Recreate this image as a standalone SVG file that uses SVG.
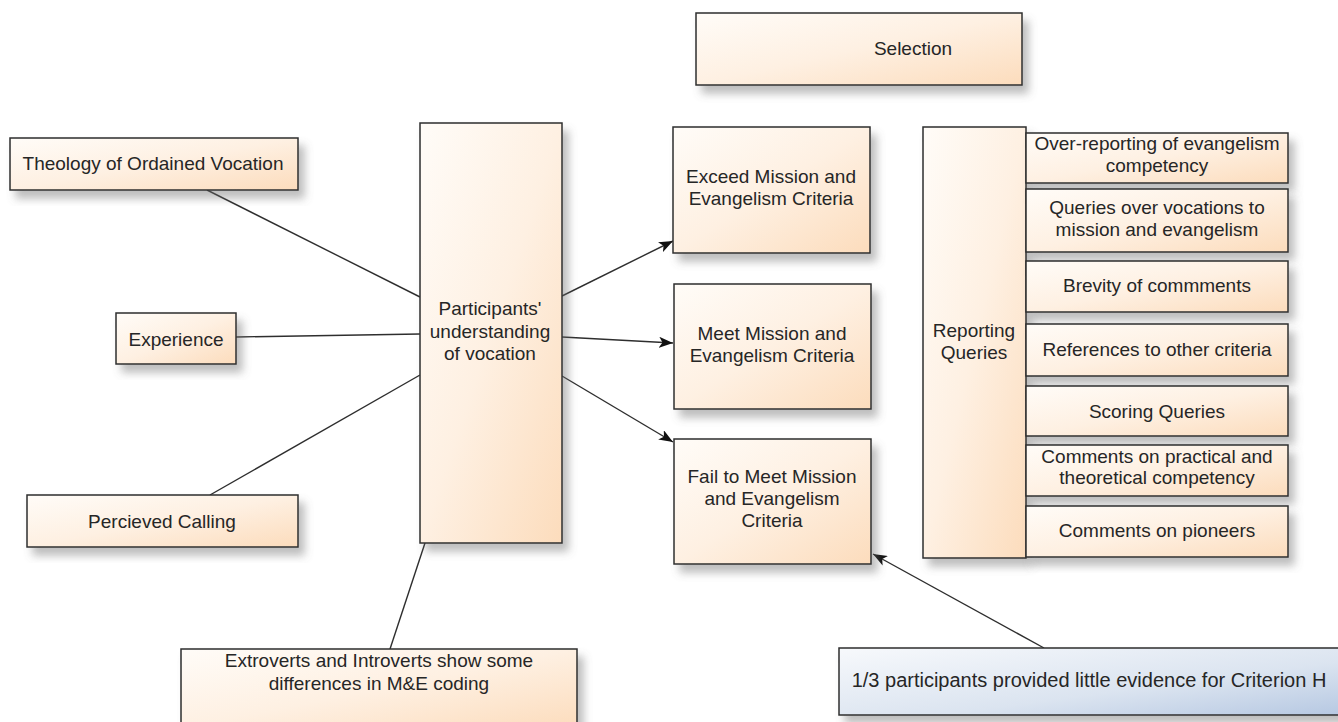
<svg xmlns="http://www.w3.org/2000/svg" width="1338" height="722" viewBox="0 0 1338 722">
<defs>
<linearGradient id="peach" x1="0" y1="0" x2="1" y2="1">
<stop offset="0" stop-color="#fffcf8"/>
<stop offset="0.5" stop-color="#fef0e2"/>
<stop offset="1" stop-color="#fcdcbc"/>
</linearGradient>
<linearGradient id="blue" x1="0" y1="0" x2="1" y2="1">
<stop offset="0" stop-color="#f7f9fc"/>
<stop offset="0.6" stop-color="#dbe4f0"/>
<stop offset="1" stop-color="#b6c8e2"/>
</linearGradient>
<filter id="sh" x="-10%" y="-10%" width="130%" height="140%">
<feDropShadow dx="6" dy="8" stdDeviation="4" flood-color="#707070" flood-opacity="0.45"/>
</filter>
<marker id="arr" viewBox="0 0 14 11" refX="14" refY="5.5" markerWidth="14" markerHeight="11" markerUnits="userSpaceOnUse" orient="auto">
<path d="M0,0 L14,5.5 L0,11 L3.5,5.5 z" fill="#111"/>
</marker>
</defs>
<style>
.n rect{fill:url(#peach);stroke:#2e2e2e;stroke-width:1.5;filter:url(#sh)}
.b rect{fill:url(#blue);stroke:#2e2e2e;stroke-width:1.5;filter:url(#sh)}
text{font-family:"Liberation Sans",Arial,sans-serif;font-size:19px;fill:#262626;text-anchor:middle}
.c line{stroke:#2e2e2e;stroke-width:1.4}
</style>
<rect width="1338" height="722" fill="#ffffff"/>

<g class="c" id="connectors">
<line x1="207" y1="190" x2="420" y2="297"/>
<line x1="236" y1="337" x2="420" y2="334"/>
<line x1="210" y1="495" x2="420" y2="375"/>
<line x1="390" y1="649" x2="425" y2="543"/>
<line x1="562" y1="296" x2="673" y2="241" marker-end="url(#arr)"/>
<line x1="562" y1="337" x2="673" y2="343" marker-end="url(#arr)"/>
<line x1="562" y1="376" x2="673" y2="442" marker-end="url(#arr)"/>
<line x1="1044" y1="648" x2="873" y2="554" marker-end="url(#arr)"/>
</g>

<g class="n" id="selection"><rect x="696" y="13" width="326" height="72"/><text x="913" y="55">Selection</text></g>
<g class="n" id="theology"><rect x="10" y="138" width="288" height="52"/><text x="153" y="170">Theology of Ordained Vocation</text></g>
<g class="n" id="experience"><rect x="116" y="313" width="120" height="51"/><text x="176" y="346">Experience</text></g>
<g class="n" id="calling"><rect x="27" y="495" width="271" height="52"/><text x="162" y="528">Percieved Calling</text></g>
<g class="n" id="participants"><rect x="420" y="123" width="142" height="420"/><text x="490" y="315">Participants'</text><text x="490" y="338">understanding</text><text x="490" y="360">of vocation</text></g>
<g class="n" id="exceed"><rect x="673" y="127" width="197" height="126"/><text x="771" y="183">Exceed Mission and</text><text x="771" y="205">Evangelism Criteria</text></g>
<g class="n" id="meet"><rect x="674" y="284" width="197" height="125"/><text x="772" y="340">Meet Mission and</text><text x="772" y="362">Evangelism Criteria</text></g>
<g class="n" id="fail"><rect x="674" y="439" width="197" height="125"/><text x="772" y="483">Fail to Meet Mission</text><text x="772" y="505">and Evangelism</text><text x="772" y="527">Criteria</text></g>
<g class="n" id="reporting"><rect x="923" y="127" width="103" height="431"/><text x="974" y="337">Reporting</text><text x="974" y="359">Queries</text></g>
<g class="n" id="q1"><rect x="1026" y="133" width="262" height="50"/><text x="1157" y="150">Over-reporting of evangelism</text><text x="1157" y="172">competency</text></g>
<g class="n" id="q2"><rect x="1026" y="189" width="262" height="63"/><text x="1157" y="214">Queries over vocations to</text><text x="1157" y="236">mission and evangelism</text></g>
<g class="n" id="q3"><rect x="1026" y="261" width="262" height="51"/><text x="1157" y="292">Brevity of commments</text></g>
<g class="n" id="q4"><rect x="1026" y="324" width="262" height="52"/><text x="1157" y="356">References to other criteria</text></g>
<g class="n" id="q5"><rect x="1026" y="386" width="262" height="50"/><text x="1157" y="418">Scoring Queries</text></g>
<g class="n" id="q6"><rect x="1026" y="445" width="262" height="51"/><text x="1157" y="463">Comments on practical and</text><text x="1157" y="484">theoretical competency</text></g>
<g class="n" id="q7"><rect x="1026" y="506" width="262" height="51"/><text x="1157" y="537">Comments on pioneers</text></g>
<g class="n" id="extroverts"><rect x="181" y="649" width="396" height="80"/><text x="379" y="667">Extroverts and Introverts show some</text><text x="379" y="690">differences in M&amp;E coding</text></g>
<g class="b" id="criterionH"><rect x="839" y="648" width="505" height="67"/><text x="1089" y="687" style="font-size:20px">1/3 participants provided little evidence for Criterion H</text></g>
</svg>
